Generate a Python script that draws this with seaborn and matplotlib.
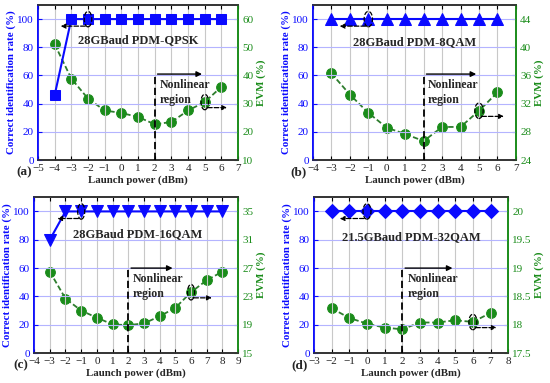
import matplotlib
matplotlib.use("Agg")
import matplotlib.pyplot as plt
import seaborn as sns
import pandas as pd
import numpy as np
from matplotlib.patches import Ellipse

sns.set_style("ticks")
plt.rcParams['font.family'] = ['Liberation Serif', 'DejaVu Serif']
plt.rcParams['mathtext.fontset'] = 'stix'

# ---------------- data ----------------
titles = ["28GBaud PDM-QPSK", "28GBaud PDM-8QAM", "28GBaud PDM-16QAM", "21.5GBaud PDM-32QAM"]
labels = ["(a)", "(b)", "(c)", "(d)"]

power_a = [-4, -3, -2, -1, 0, 1, 2, 3, 4, 5, 6]
rate_a = [46, 100, 100, 100, 100, 100, 100, 100, 100, 100, 100]
evm_a = [51.1, 38.9, 31.8, 27.6, 26.7, 25.3, 22.7, 23.5, 27.6, 30.6, 36.0]

power_b = [-3, -2, -1, 0, 1, 2, 3, 4, 5, 6]
rate_b = [100, 100, 100, 100, 100, 100, 100, 100, 100, 100]
evm_b = [36.3, 33.3, 30.7, 28.6, 27.7, 26.7, 28.7, 28.7, 31.0, 33.6]

power_c = [-3, -2, -1, 0, 1, 2, 3, 4, 5, 6, 7, 8]
rate_c = [80, 100, 100, 100, 100, 100, 100, 100, 100, 100, 100, 100]
evm_c = [26.5, 22.7, 21.0, 20.0, 19.05, 18.95, 19.2, 20.2, 21.4, 23.6, 25.3, 26.5]

power_d = [-2, -1, 0, 1, 2, 3, 4, 5, 6, 7]
rate_d = [100, 100, 100, 100, 100, 100, 100, 100, 100, 100]
evm_d = [18.29, 18.12, 18.02, 17.95, 17.92, 18.04, 18.04, 18.08, 18.05, 18.21]

xticks_a = list(range(-5, 8))
xticks_b = list(range(-4, 8))
xticks_c = list(range(-4, 10))
xticks_d = list(range(-3, 9))

rticks_a = [10, 20, 30, 40, 50, 60]
rticks_b = [24, 28, 32, 36, 40, 44]
rticks_c = [15, 19, 23, 27, 31, 35]
rticks_d = [17.5, 18, 18.5, 19, 19.5, 20]
rticklabels_d = ["17.5", "18", "18.5", "19", "19.5", "20"]

BLUE = "#0a0aff"
GREEN = "#1a8c1a"
DKGREEN = "#2e7d2e"

panels = [
    dict(p=power_a, r=rate_a, e=evm_a, xt=xticks_a, rt=rticks_a, rtl=None, mk='s', ms=7.5,
         pos=[0.069, 0.582, 0.364, 0.405], tpos=(1.0, 85), arrow_y=61, arrow_x=5.0,
         nl=(2.3, 48), bell=(-2, 100), barr=((-2, 95), (-3.8, 95)),
         gidx=9, garr_off=(1.5,)),
    dict(p=power_b, r=rate_b, e=evm_b, xt=xticks_b, rt=rticks_b, rtl=None, mk='^', ms=8.5,
         pos=[0.569, 0.582, 0.369, 0.405], tpos=(1.5, 84), arrow_y=61, arrow_x=5.0,
         nl=(2.2, 48), bell=(-1, 100), barr=((-1, 95), (-2.7, 95)),
         gidx=8, garr_off=(1.5,)),
    dict(p=power_c, r=rate_c, e=evm_c, xt=xticks_c, rt=rticks_c, rtl=None, mk='v', ms=8.5,
         pos=[0.062, 0.078, 0.371, 0.407], tpos=(2.6, 84), arrow_y=60, arrow_x=5.0,
         nl=(2.3, 47), bell=(-1, 100), barr=((-1, 95), (-2.7, 95)),
         gidx=9, garr_off=(1.5,)),
    dict(p=power_d, r=rate_d, e=evm_d, xt=xticks_d, rt=rticks_d, rtl=rticklabels_d, mk='D', ms=7,
         pos=[0.571, 0.078, 0.353, 0.407], tpos=(2.5, 82), arrow_y=60, arrow_x=5.0,
         nl=(2.3, 47), bell=(0, 100), barr=((0, 95), (-1.7, 95)),
         gidx=8, garr_off=(1.5,)),
]

fig = plt.figure(figsize=(5.5, 3.83), dpi=100)

for i, pn in enumerate(panels):
    ax = fig.add_axes(pn['pos'])
    ax2 = ax.twinx()
    df = pd.DataFrame({"power": pn['p'], "rate": pn['r'], "evm": pn['e']})

    xt = pn['xt']
    rt = pn['rt']
    xlim = (xt[0], xt[-1])
    span = rt[-1] - rt[0]
    rlim = (rt[0], rt[0] + span * 1.1)

    ax.set_xlim(*xlim)
    ax.set_ylim(0, 110)
    ax2.set_ylim(*rlim)

    for x in xt:
        ax.axvline(x, color="#c8c8c8", lw=0.8, zorder=0)
    for y in [20, 40, 60, 80, 100]:
        ax.axhline(y, color="#b4b4ff", lw=0.8, zorder=0)

    sns.lineplot(data=df, x="power", y="rate", ax=ax, color=BLUE, marker=pn['mk'],
                 markersize=pn['ms'], markeredgecolor=BLUE, lw=1.5, zorder=3)
    sns.lineplot(data=df, x="power", y="evm", ax=ax2, color=DKGREEN, marker='o',
                 markersize=7, markerfacecolor=GREEN, markeredgecolor=GREEN,
                 lw=1.3, linestyle='--', zorder=3)
    ax2.lines[-1].set_dashes([3, 1.5])

    ax.set_xticks(xt)
    ax.set_xticklabels([str(x).replace('-', '\u2212') for x in xt])
    ax.set_yticks([0, 20, 40, 60, 80, 100])
    ax2.set_yticks(rt)
    if pn['rtl'] is not None:
        ax2.set_yticklabels(pn['rtl'])

    ax.tick_params(axis='x', direction='in', length=3, labelsize=8, pad=2.5, colors='black', labelcolor='#222222')
    ax.tick_params(axis='x', top=True, direction='in', length=3)
    ax.tick_params(axis='y', direction='in', length=3, labelsize=8, colors=BLUE, pad=3)
    ax2.tick_params(axis='y', direction='in', length=3, labelsize=8, colors=GREEN, pad=3)

    ax.set_xlabel("Launch power (dBm)", fontsize=7.8, fontweight='bold', labelpad=2)
    ax.set_ylabel("Correct identification rate (%)", fontsize=7.8, fontweight='bold', color=BLUE, labelpad=1)
    ax2.set_ylabel("EVM (%)", fontsize=7.8, fontweight='bold', color=GREEN, labelpad=2)

    for a in (ax, ax2):
        a.spines['left'].set_color(BLUE)
        a.spines['right'].set_color(GREEN)
        a.spines['top'].set_color('#333333')
        a.spines['bottom'].set_color('#333333')
        for s in a.spines.values():
            s.set_linewidth(1.2)
    ax.set_zorder(ax2.get_zorder() + 1)
    ax.patch.set_visible(False)

    ax.text(pn['tpos'][0], pn['tpos'][1], titles[i], fontsize=9, fontweight='bold',
            ha='center', va='center', zorder=5)
    ax.plot([2, 2], [0, pn['arrow_y']], color='black', lw=1.3, ls=(0, (4, 2)), zorder=4)
    ax.annotate("", xy=(pn['arrow_x'], pn['arrow_y']), xytext=(2, pn['arrow_y']),
                arrowprops=dict(arrowstyle='-|>', color='black', lw=1.0, mutation_scale=8))
    ax.text(pn['nl'][0], pn['nl'][1], "Nonlinear\nregion", fontsize=8.5, fontweight='bold',
            ha='left', va='center', linespacing=1.3, zorder=5)

    bx, by = pn['bell']
    ax.add_patch(Ellipse((bx, by), 0.45, 11, fill=False, ls='--', lw=0.9, ec='black', zorder=6))
    ax.annotate("", xy=pn['barr'][1], xytext=pn['barr'][0],
                arrowprops=dict(arrowstyle='-|>', color='black', lw=0.9, ls='--', mutation_scale=7))

    gi = pn['gidx']
    gx = pn['p'][gi]
    gy_left = (pn['e'][gi] - rt[0]) / span * 100
    ax.add_patch(Ellipse((gx, gy_left), 0.45, 11, fill=False, ls='--', lw=0.9, ec='black', zorder=6))
    ax.annotate("", xy=(gx + pn['garr_off'][0], gy_left - 4), xytext=(gx, gy_left - 4),
                arrowprops=dict(arrowstyle='-|>', color='black', lw=0.9, ls='--', mutation_scale=7))

    ax.text(-0.03, -0.077, labels[i], transform=ax.transAxes, fontsize=9.5, fontweight='bold',
            ha='right', va='center')

fig.savefig("out.png", dpi=100)
